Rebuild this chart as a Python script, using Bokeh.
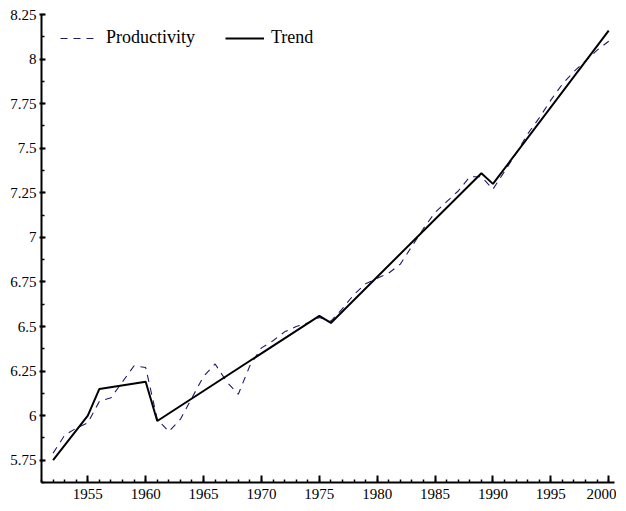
from bokeh.plotting import figure
from bokeh.models import FixedTicker, Range1d, Legend, LegendItem
from bokeh.embed import file_html
from bokeh.resources import INLINE

years = list(range(1952, 2001))
productivity = [5.79, 5.89, 5.93, 5.96, 6.08, 6.10, 6.19, 6.28, 6.27, 5.98,
                5.91, 5.98, 6.10, 6.22, 6.29, 6.19, 6.12, 6.28, 6.38, 6.42,
                6.47, 6.50, 6.52, 6.55, 6.53, 6.60, 6.68, 6.74, 6.77, 6.80,
                6.85, 6.95, 7.05, 7.14, 7.20, 7.26, 7.34, 7.34, 7.27, 7.37,
                7.47, 7.58, 7.67, 7.77, 7.86, 7.93, 7.99, 8.05, 8.10]
trend_years = [1952, 1955, 1956, 1960, 1961, 1975, 1976, 1989, 1990, 2000]
trend_values = [5.75, 6.00, 6.15, 6.19, 5.97, 6.56, 6.52, 7.36, 7.30, 8.16]

x_ticks = [1955, 1960, 1965, 1970, 1975, 1980, 1985, 1990, 1995, 2000]
x_minor = list(range(1951, 2001))
y_ticks = [5.75, 6.0, 6.25, 6.5, 6.75, 7.0, 7.25, 7.5, 7.75, 8.0, 8.25]
y_labels = ["5.75", "6", "6.25", "6.5", "6.75", "7", "7.25", "7.5", "7.75", "8", "8.25"]
y_minor = [5.625 + 0.125 * i for i in range(22)]

FONT = "Liberation Serif"

p = figure(width=616, height=508, output_backend="svg", toolbar_location=None,
           x_range=Range1d(1951, 2000.5), y_range=Range1d(5.625, 8.25),
           min_border_left=41, min_border_right=2, min_border_top=14, min_border_bottom=26)
p.outline_line_color = None
p.xgrid.visible = False
p.ygrid.visible = False

r_prod = p.line(years, productivity, line_color="#1c1c6c", line_width=1.1, line_dash="7 6")
r_trend = p.line(trend_years, trend_values, line_color="black", line_width=2)

p.xaxis.ticker = FixedTicker(ticks=x_ticks, minor_ticks=x_minor)
p.yaxis.ticker = FixedTicker(ticks=y_ticks, minor_ticks=y_minor)
p.yaxis.major_label_overrides = dict(zip(y_ticks, y_labels))

for ax in (p.xaxis[0], p.yaxis[0]):
    ax.axis_line_width = 2
    ax.axis_line_color = "black"
    ax.major_tick_line_width = 2
    ax.minor_tick_line_width = 1.5
    ax.major_tick_line_color = "black"
    ax.minor_tick_line_color = "black"
    ax.major_label_text_font = FONT
    ax.major_label_text_font_size = "15px"
    ax.major_label_text_color = "black"

p.xaxis.major_tick_in = 7
p.xaxis.major_tick_out = 0
p.xaxis.minor_tick_in = 3
p.xaxis.minor_tick_out = 0
p.xaxis.major_label_standoff = 6

p.yaxis.major_tick_in = 4
p.yaxis.major_tick_out = 2
p.yaxis.minor_tick_in = 3
p.yaxis.minor_tick_out = 0
p.yaxis.major_label_standoff = 3

legend = Legend(items=[LegendItem(label="Productivity", renderers=[r_prod]),
                       LegendItem(label="Trend", renderers=[r_trend])],
                orientation="horizontal", location=(19, 434),
                padding=0, margin=0, spacing=30, label_standoff=7,
                glyph_width=39, glyph_height=20, label_height=20,
                border_line_color=None, background_fill_alpha=0,
                label_text_font=FONT, label_text_font_size="18px",
                label_text_color="black")
p.add_layout(legend)

open("out.html", "w").write(file_html(p, INLINE))
